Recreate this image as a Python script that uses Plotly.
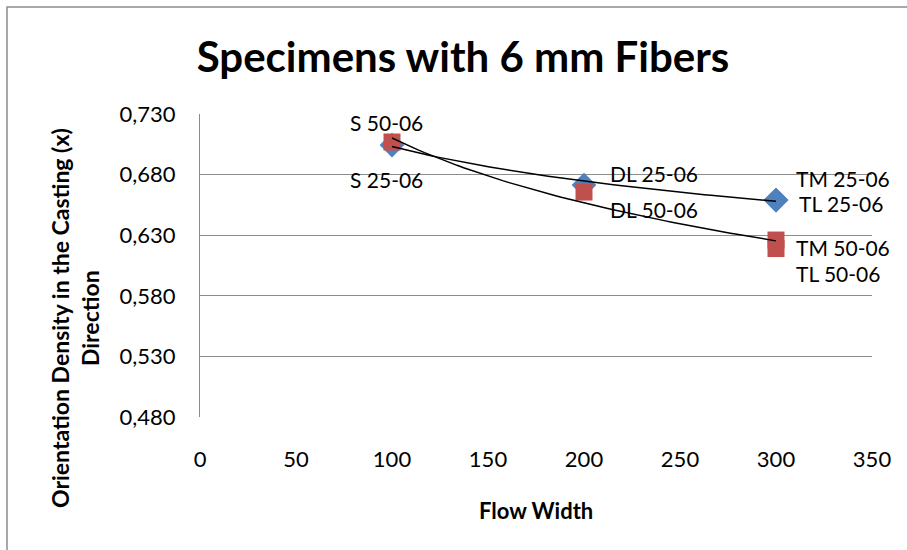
import numpy as np
import plotly.graph_objects as go

# ---- data ----
x_25 = [100, 200, 300, 300]
y_25 = [0.7044, 0.6714, 0.659, 0.659]
lab_25 = ["S 25-06", "DL 25-06", "TM 25-06", "TL 25-06"]

x_50 = [100, 200, 300, 300]
y_50 = [0.7069, 0.6656, 0.626, 0.619]
lab_50 = ["S 50-06", "DL 50-06", "TM 50-06", "TL 50-06"]

y_ticks = [0.480, 0.530, 0.580, 0.630, 0.680, 0.730]
y_ticktext = ["0,480", "0,530", "0,580", "0,630", "0,680", "0,730"]
x_ticks = [0, 50, 100, 150, 200, 250, 300, 350]

FONT = "Lato"
BLUE = "#4F81BD"
RED = "#C0504D"
GRID = "#8C8C8C"

# plot area geometry (px)
L, R, T, B = 200, 35, 114, 133
W, H = 907, 550
PW, PH = W - L - R, H - T - B


def logfit(xs, ys):
    a, b = np.polyfit(np.log(xs), ys, 1)
    xx = np.linspace(min(xs), max(xs), 60)
    return xx, a * np.log(xx) + b


fig = go.Figure()
fig.add_trace(go.Scatter(x=x_25, y=y_25, mode="markers",
                         marker=dict(symbol="diamond", size=19, color=BLUE,
                                     line=dict(width=0)),
                         showlegend=False, hoverinfo="skip"))
fig.add_trace(go.Scatter(x=x_50, y=y_50, mode="markers",
                         marker=dict(symbol="square", size=17, color=RED,
                                     line=dict(width=0)),
                         showlegend=False, hoverinfo="skip"))
for xs, ys in ((x_25, y_25), (x_50, y_50)):
    tx, ty = logfit(xs, ys)
    fig.add_trace(go.Scatter(x=tx, y=ty, mode="lines",
                             line=dict(color="black", width=1.5),
                             showlegend=False, hoverinfo="skip"))

# label offsets (px): (xshift, yshift, xanchor)
offs_25 = [(-6, -34, "center"), (24, 12, "left"), (18, 22, "left"), (21, -3, "left")]
offs_50 = [(-6, 20, "center"), (24, -17, "left"), (18, -7, "left"), (18, -25, "left")]
annotations = []
for xs, ys, labs, offs in ((x_25, y_25, lab_25, offs_25), (x_50, y_50, lab_50, offs_50)):
    for xv, yv, t, (dx, dy, xa) in zip(xs, ys, labs, offs):
        annotations.append(dict(x=xv, y=yv, xref="x", yref="y", text=t,
                                showarrow=False, xshift=dx, yshift=dy,
                                xanchor=xa, yanchor="middle",
                                font=dict(family=FONT, size=21, color="black")))

# axis titles
annotations.append(dict(text="<b>Orientation Density in the Casting (x)</b><br><b>Direction</b>",
                        xref="paper", yref="paper",
                        x=(75 - L) / PW, y=(H - B - 318) / PH,
                        showarrow=False, textangle=-90,
                        font=dict(family=FONT, size=23, color="black"),
                        xanchor="center", yanchor="middle"))
annotations.append(dict(text="<b>Flow Width</b>", xref="paper", yref="paper",
                        x=(536 - L) / PW, y=(H - B - 510) / PH,
                        showarrow=False,
                        font=dict(family=FONT, size=22, color="black"),
                        xanchor="center", yanchor="middle"))

shapes = [dict(type="rect", xref="paper", yref="paper",
               x0=(7 - L) / PW, x1=(1000 - L) / PW,
               y0=(H - B - 700) / PH, y1=(H - B - 7) / PH,
               line=dict(color="#8C8C8C", width=1.5), layer="below")]

fig.update_layout(
    width=W, height=H,
    margin=dict(l=L, r=R, t=T, b=B),
    paper_bgcolor="white", plot_bgcolor="white",
    title=dict(text="<b>Specimens with 6 mm Fibers</b>", x=463 / W, xanchor="center",
               y=1 - 57 / H, yanchor="middle",
               font=dict(family=FONT, size=42, color="black")),
    xaxis=dict(range=[0, 350], tickvals=x_ticks, showgrid=False, zeroline=False,
               showline=False, ticks="", ticklabelstandoff=27,
               tickfont=dict(family=FONT, size=22, color="black")),
    yaxis=dict(range=[0.480, 0.730], tickvals=y_ticks, ticktext=y_ticktext,
               showgrid=True, gridcolor=GRID, gridwidth=1, zeroline=False,
               showline=True, linecolor=GRID, linewidth=1, ticks="",
               ticklabelstandoff=19,
               tickfont=dict(family=FONT, size=22, color="black")),
    annotations=annotations, shapes=shapes,
)

fig.write_html("out.html")
